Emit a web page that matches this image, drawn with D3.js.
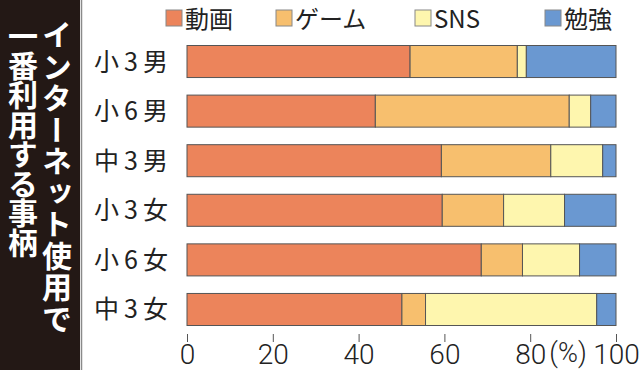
<!DOCTYPE html>
<html>
<head>
<meta charset="utf-8">
<script src="https://cdn.jsdelivr.net/npm/d3@7"></script>
<style>
  body { margin: 0; background: #fff; }
  svg { display: block; }
</style>
</head>
<body>
<svg id="chart" width="640" height="370"></svg>
<script>
// data (percent)
const groups = ["小3男", "小6男", "中3男", "小3女", "小6女", "中3女"];
const keys = ["動画", "ゲーム", "SNS", "勉強"];
const douga = [52.0, 43.9, 59.3, 59.5, 68.6, 50.1];
const game = [25.0, 45.2, 25.5, 14.3, 9.6, 5.5];
const sns = [2.1, 5.0, 12.1, 14.2, 13.3, 39.9];
const benkyo = [20.9, 5.9, 3.1, 12.0, 8.5, 4.5];
const tickVals = [0, 20, 40, 60, 80, 100];
const colors = ["#ec845b", "#f7bf6e", "#fef6ae", "#6a98d1"];

const svg = d3.select("svg#chart");
const jp = "'Noto Sans CJK JP', sans-serif";

// build rows for d3.stack
const rows = groups.map((g, i) => ({
  group: g, "動画": douga[i], "ゲーム": game[i], "SNS": sns[i], "勉強": benkyo[i]
}));
const series = d3.stack().keys(keys)(rows);

const x = d3.scaleLinear().domain([0, 100]).range([187, 616]);
const y = d3.scaleBand().domain(groups).range([45.5, 325.5]).paddingInner(0.354);
const color = d3.scaleOrdinal().domain(keys).range(colors);

// left title panel
svg.append("rect").attr("x", 0).attr("y", 0).attr("width", 80).attr("height", 370)
  .attr("fill", "#231815");
svg.append("line").attr("x1", 81.5).attr("x2", 81.5).attr("y1", 0).attr("y2", 370)
  .attr("stroke", "#8a8a8a").attr("stroke-width", 1.5);

const titleCols = [
  { text: "インターネット使用で", x: 57, y: 20, spacing: 1.5 },
  { text: "一番利用する事柄", x: 23, y: 21, spacing: -0.5 }
];
titleCols.forEach(c => {
  svg.append("text")
    .attr("x", c.x).attr("y", c.y)
    .style("writing-mode", "vertical-rl")
    .style("font-family", jp)
    .style("font-weight", "700")
    .style("font-size", "30px")
    .style("letter-spacing", c.spacing + "px")
    .attr("fill", "#fff")
    .text(c.text);
});

// bars
svg.append("g").selectAll("g").data(series).join("g")
  .attr("fill", d => color(d.key))
  .selectAll("rect").data(d => d).join("rect")
  .attr("x", d => x(d[0]))
  .attr("y", d => y(d.data.group))
  .attr("width", d => x(d[1]) - x(d[0]))
  .attr("height", y.bandwidth())
  .attr("stroke", "#555")
  .attr("stroke-width", 1);

// category labels
svg.append("g").selectAll("text").data(groups).join("text")
  .attr("x", 173)
  .attr("y", d => y(d) + y.bandwidth() / 2)
  .attr("dy", "0.36em")
  .attr("text-anchor", "end")
  .style("font-family", jp)
  .style("font-size", "25px")
  .style("letter-spacing", "5px")
  .attr("fill", "#222")
  .text(d => d);

// x axis
const axis = svg.append("g").attr("transform", "translate(0,334)")
  .call(d3.axisBottom(x).tickValues(tickVals).tickSize(8).tickFormat(d => d));
axis.select(".domain").remove();
axis.selectAll(".tick line").attr("stroke", "#555");
axis.selectAll(".tick text")
  .attr("y", 10)
  .style("font-family", "Roboto, sans-serif")
  .style("font-weight", "300")
  .style("font-size", "28px")
  .attr("fill", "#222");
svg.append("text")
  .attr("x", 568).attr("y", 362)
  .attr("text-anchor", "middle")
  .style("font-family", "Roboto, sans-serif")
  .style("font-weight", "300")
  .style("font-size", "27px")
  .attr("fill", "#222")
  .text("(%)");

// legend
const legendX = [166, 276, 415, 545];
const legend = svg.append("g").selectAll("g").data(keys).join("g")
  .attr("transform", (d, i) => `translate(${legendX[i]},10)`);
legend.append("rect")
  .attr("width", 16).attr("height", 16)
  .attr("fill", d => color(d))
  .attr("stroke", "#888").attr("stroke-width", 1);
legend.append("text")
  .attr("x", 19).attr("y", 9)
  .attr("dy", "0.36em")
  .style("font-family", jp)
  .style("font-size", "24px")
  .attr("fill", "#222")
  .text(d => d);
</script>
</body>
</html>
